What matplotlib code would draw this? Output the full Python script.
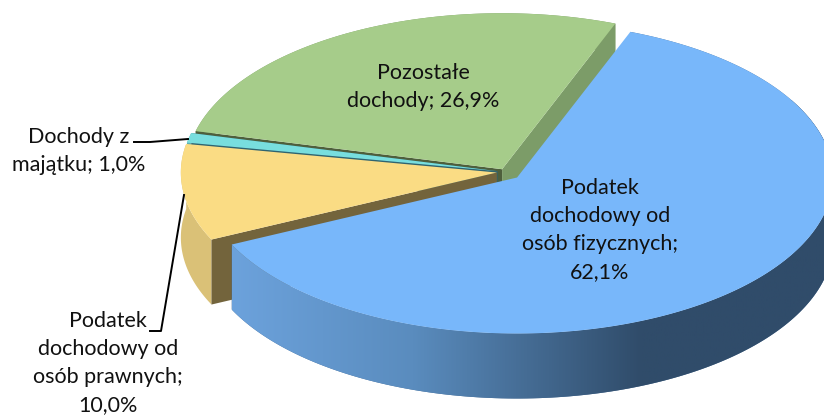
"""Income structure shown as an exploded 3D pie, drawn by hand in pixel space."""

import matplotlib

matplotlib.use("Agg")

import matplotlib.pyplot as plt
import numpy as np
from matplotlib.colors import LinearSegmentedColormap
from matplotlib.patches import Polygon

categories = [
    "Podatek\ndochodowy od\nosób fizycznych;",
    "Podatek\ndochodowy od\nosób prawnych;",
    "Dochody z\nmajątku;",
    "Pozostałe\ndochody;",
]
values = [62.1, 10.0, 1.0, 26.9]

top_colors = ["#78B7FA", "#FADC84", "#78DEDE", "#A6CC8A"]
wall_colors = ["#4A6E96", "#DAC177", "#5FB0B0", "#7C9C68"]
# cut face colours at the start and end edge of each slice, None where hidden
cut_colors = [(None, None), ("#73643C", None), (None, "#2F6470"), ("#4E5F3C", "#7C9C68")]
explode = [0.052, 0.026, 0.024, 0.02]
depths = [65, 65, 30, 30]

START_ANGLE = 21.0
CENTER_X, CENTER_Y = 505.0, 172.0
RADIUS_X, RADIUS_Y = 316.0, 156.0

plt.rcParams["font.family"] = ["Lato", "DejaVu Sans"]

fig = plt.figure(figsize=(8.24, 4.18), dpi=100)
ax = fig.add_axes([0, 0, 1, 1])


def project(theta, radius=1.0, dx=0.0, dy=0.0):
    """Clockwise angle from the top (degrees) to pixel coordinates."""
    t = np.radians(theta)
    return (
        CENTER_X + dx + radius * RADIUS_X * np.sin(t),
        CENTER_Y + dy - radius * RADIUS_Y * np.cos(t),
    )


starts = START_ANGLE + np.cumsum([0] + values[:-1]) * 3.6

# back slices first: the last slice sits furthest back, the first in front
z = 2
for i in reversed(range(len(values))):
    start, end = starts[i], starts[i] + values[i] * 3.6
    mid = (start + end) / 2
    dx = explode[i] * RADIUS_X * np.sin(np.radians(mid))
    dy = -explode[i] * RADIUS_Y * np.cos(np.radians(mid))
    apex = np.array(project(mid, 0.0, dx, dy))
    arc = np.column_stack(project(np.linspace(start, end, 200), 1.0, dx, dy))
    drop = np.array([0, depths[i]])

    # outer wall, then the two cut faces, then the top surface
    wall = Polygon(np.vstack([arc, (arc + drop)[::-1]]), closed=True, fc=wall_colors[i], ec="none", zorder=z)
    ax.add_patch(wall)
    if i == 0:
        shade = LinearSegmentedColormap.from_list(
            "shade",
            [(0.0, "#6CA2DC"), (0.3, "#5A8CBE"), (0.68, "#304C6A"), (1.0, "#304C6A")],
        )
        img = ax.imshow(
            np.linspace(0, 1, 256).reshape(1, -1),
            extent=[arc[:, 0].min(), arc[:, 0].max(), 420, 100],
            cmap=shade,
            aspect="auto",
            zorder=z + 1,
        )
        img.set_clip_path(wall)
    for edge, color in zip((arc[0], arc[-1]), cut_colors[i]):
        if color is None:
            continue
        face = np.vstack([apex, edge, edge + drop, apex + drop])
        ax.add_patch(Polygon(face, closed=True, fc=color, ec="none", zorder=z + 2))
    ax.add_patch(Polygon(np.vstack([apex, arc]), closed=True, fc=top_colors[i], ec="none", zorder=z + 3))
    z += 4

text_style = dict(ha="center", va="center", fontsize=15.5, color="#111111", linespacing=1.5, zorder=40)
label_xy = [(600, 230), (108, 363), (79, 151), (423, 87)]
for name, value, xy in zip(categories, values, label_xy):
    value_text = f"{value:.1f}%".replace(".", ",")
    sep = "\n" if value_text in ("62,1%", "10,0%") else " "
    ax.text(xy[0], xy[1], f"{name}{sep}{value_text}", **text_style)

# leader lines for the two outside labels
ax.plot([134, 150, 188], [142, 142, 139], color="black", lw=1.4, zorder=41)
ax.plot([150, 161, 184], [331, 331, 195], color="black", lw=1.4, zorder=41)

ax.set_xlim(0, 824)
ax.set_ylim(418, 0)
ax.axis("off")

fig.savefig("out.png", dpi=100, facecolor="white")
